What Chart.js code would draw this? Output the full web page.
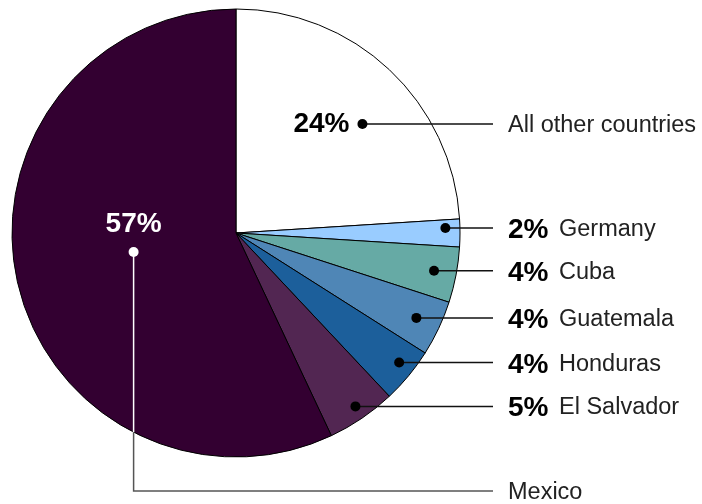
<!DOCTYPE html>
<html>
<head>
<meta charset="utf-8">
<title>Share by country</title>
<script src="https://cdn.jsdelivr.net/npm/chart.js@4.4.1/dist/chart.umd.min.js"></script>
<style>
  html, body { margin: 0; padding: 0; background: #ffffff; }
  #wrap { width: 702px; height: 504px; }
</style>
</head>
<body>
<div id="wrap"><canvas id="shareChart" width="702" height="504"></canvas></div>
<script>
// Slices go clockwise from 12 o'clock
const countries = ['All other countries', 'Germany', 'Cuba', 'Guatemala', 'Honduras', 'El Salvador', 'Mexico'];
const shares = [24, 2, 4, 4, 4, 5, 57];
const sliceColors = ['#ffffff', '#99ccff', '#66aaa5', '#4f86b6', '#1c5f9b', '#522652', '#330031'];

// Where each leader dot sits: fraction across the slice angle, fraction of radius
const dotAnchors = [
    { t: 0.57, r: 0.745 },
    { t: 0.31, r: 0.935 },
    { t: 0.50, r: 0.90 },
    { t: 0.50, r: 0.89 },
    { t: 0.42, r: 0.93 },
    { t: 0.48, r: 0.94 },
    { t: 0.51, r: 0.465 }
];

const FONT = '"Liberation Sans", Arial, Helvetica, sans-serif';
const PCT_FONT = 'bold 28px ' + FONT;
const NAME_FONT = '23.5px ' + FONT;
const LINE_END = 493;
const PCT_X = 508;
const NAME_X = 559;
const BOTTOM_LINE_Y = 491;

function dot(ctx, x, y, color) {
    ctx.fillStyle = color;
    ctx.beginPath();
    ctx.arc(x, y, 5, 0, Math.PI * 2);
    ctx.fill();
}

const calloutPlugin = {
    id: 'callouts',
    afterDraw(chart) {
        const ctx = chart.ctx;
        const arcs = chart.getDatasetMeta(0).data;
        ctx.save();
        arcs.forEach(function (arc, i) {
            const p = arc.getProps(['x', 'y', 'startAngle', 'endAngle', 'outerRadius'], true);
            const a = dotAnchors[i];
            const ang = p.startAngle + a.t * (p.endAngle - p.startAngle);
            const dx = Math.cos(ang) * p.outerRadius * a.r;
            const dy = Math.sin(ang) * p.outerRadius * a.r;
            const x = p.x + dx;
            const y = p.y + dy;
            const pct = shares[i] + '%';

            ctx.textBaseline = 'alphabetic';

            if (i === shares.length - 1) {
                // Largest slice: white label inside, leader runs down then right
                const edgeY = p.y + Math.sqrt(p.outerRadius * p.outerRadius - dx * dx);
                ctx.lineWidth = 1.5;
                ctx.strokeStyle = '#ffffff';
                ctx.beginPath();
                ctx.moveTo(x, y);
                ctx.lineTo(x, edgeY);
                ctx.stroke();
                ctx.strokeStyle = '#555555';
                ctx.beginPath();
                ctx.moveTo(x, edgeY);
                ctx.lineTo(x, BOTTOM_LINE_Y);
                ctx.lineTo(LINE_END, BOTTOM_LINE_Y);
                ctx.stroke();
                dot(ctx, x, y, '#ffffff');

                ctx.font = PCT_FONT;
                ctx.fillStyle = '#ffffff';
                ctx.textAlign = 'center';
                ctx.fillText(pct, x, y - 20);

                ctx.font = NAME_FONT;
                ctx.fillStyle = '#222222';
                ctx.textAlign = 'left';
                ctx.fillText(countries[i], PCT_X, BOTTOM_LINE_Y + 8);
                return;
            }

            ctx.lineWidth = 1.5;
            ctx.strokeStyle = '#111111';
            ctx.beginPath();
            ctx.moveTo(x, y);
            ctx.lineTo(LINE_END, y);
            ctx.stroke();
            dot(ctx, x, y, '#000000');

            if (i === 0) {
                // Percentage sits inside the white slice, name out on the right
                ctx.font = PCT_FONT;
                ctx.fillStyle = '#000000';
                ctx.textAlign = 'right';
                ctx.fillText(pct, x - 13, y + 8);
                ctx.font = NAME_FONT;
                ctx.fillStyle = '#222222';
                ctx.textAlign = 'left';
                ctx.fillText(countries[i], PCT_X, y + 8);
            } else {
                ctx.font = PCT_FONT;
                ctx.fillStyle = '#000000';
                ctx.textAlign = 'left';
                ctx.fillText(pct, PCT_X, y + 10);
                ctx.font = NAME_FONT;
                ctx.fillStyle = '#222222';
                ctx.fillText(countries[i], NAME_X, y + 8);
            }
        });
        ctx.restore();
    }
};

new Chart(document.getElementById('shareChart'), {
    type: 'pie',
    data: {
        labels: countries,
        datasets: [{
            data: shares,
            backgroundColor: sliceColors,
            borderColor: '#000000',
            borderWidth: 1,
            hoverOffset: 0,
            radius: 224
        }]
    },
    options: {
        responsive: false,
        animation: false,
        events: [],
        layout: { padding: { left: 12, top: 9, right: 242, bottom: 47 } },
        plugins: {
            legend: { display: false },
            tooltip: { enabled: false }
        }
    },
    plugins: [calloutPlugin]
});
</script>
</body>
</html>
